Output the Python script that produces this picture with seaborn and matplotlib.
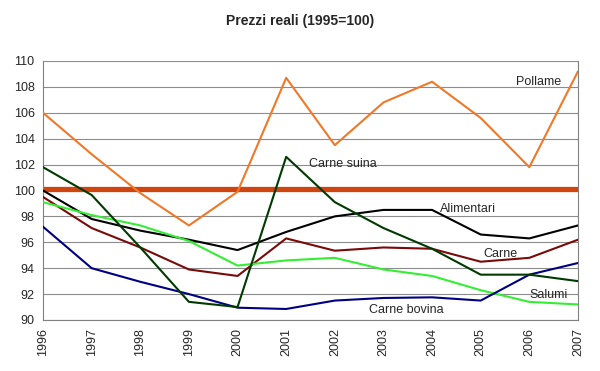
import seaborn as sns
import pandas as pd
import matplotlib.pyplot as plt

# anni e serie (prezzi reali, 1995=100)
anni = list(range(1996, 2008))
pollame = [106.0, 102.8, 99.8, 97.3, 99.9, 108.7, 103.5, 106.8, 108.4, 105.6, 101.8, 109.2]
alimentari = [100.0, 97.8, 96.9, 96.2, 95.4, 96.8, 98.0, 98.5, 98.5, 96.6, 96.3, 97.3]
carne = [99.5, 97.1, 95.6, 93.9, 93.4, 96.3, 95.35, 95.6, 95.5, 94.5, 94.8, 96.2]
salumi = [99.1, 98.1, 97.3, 96.1, 94.2, 94.6, 94.8, 93.9, 93.4, 92.3, 91.4, 91.2]
carne_bovina = [97.2, 94.0, 92.95, 92.0, 90.95, 90.85, 91.5, 91.7, 91.75, 91.5, 93.5, 94.4]
carne_suina = [101.8, 99.65, 95.6, 91.4, 91.0, 102.6, 99.1, 97.1, 95.5, 93.5, 93.5, 93.0]
base = [100.1] * len(anni)

serie = {
    "Pollame": pollame,
    "Alimentari": alimentari,
    "Carne": carne,
    "Salumi": salumi,
    "Carne bovina": carne_bovina,
    "Carne suina": carne_suina,
}
colori = {
    "Pollame": "#F07828",
    "Alimentari": "#000000",
    "Carne": "#7A0A0A",
    "Salumi": "#33EE33",
    "Carne bovina": "#000080",
    "Carne suina": "#003A00",
}

df = pd.DataFrame(
    [(a, nome, v) for nome, vals in serie.items() for a, v in zip(anni, vals)],
    columns=["anno", "serie", "valore"],
)

sns.set_style("white")
plt.rcParams['font.family'] = ['Liberation Sans', 'DejaVu Sans']

fig = plt.figure(figsize=(6, 3.71), dpi=100)
ax = fig.add_axes([0.0717, 0.1375, 0.8916, 0.6981])

# linea di riferimento 100
ax.plot(anni, base, color="#D04410", lw=3.8, solid_capstyle="butt", zorder=1)

sns.lineplot(data=df, x="anno", y="valore", hue="serie", palette=colori,
             linewidth=1.5, legend=False, ax=ax, zorder=3)

ax.set_xlim(1996, 2007)
ax.set_ylim(90, 110)
ax.set_yticks(range(90, 111, 2))
ax.set_xticks(anni)
ax.set_xticklabels([str(a) for a in anni], rotation=90, fontsize=9)
ax.tick_params(axis="y", labelsize=9, length=4, color="#808080", pad=2)
ax.tick_params(axis="x", length=4, color="#808080", pad=2)
ax.yaxis.grid(True, color="#8c8c8c", lw=0.8)
ax.set_axisbelow(True)
for s in ["left", "bottom", "right"]:
    ax.spines[s].set_color("#808080")
    ax.spines[s].set_linewidth(0.8)
ax.spines["top"].set_visible(False)
ax.set_xlabel("")
ax.set_ylabel("")

# etichette delle serie
etichette = [
    ("Pollame", 2005.73, 108.4),
    ("Carne suina", 2001.47, 102.05),
    ("Alimentari", 2004.17, 98.55),
    ("Carne", 2005.05, 95.1),
    ("Salumi", 2006.0, 91.9),
    ("Carne bovina", 2002.7, 90.8),
]
for testo, x, y in etichette:
    ax.text(x, y, testo, fontsize=9, va="center", ha="left")

fig.suptitle("Prezzi reali (1995=100)", y=0.962, fontsize=10, fontweight="bold")

fig.savefig("out.png", dpi=100)
